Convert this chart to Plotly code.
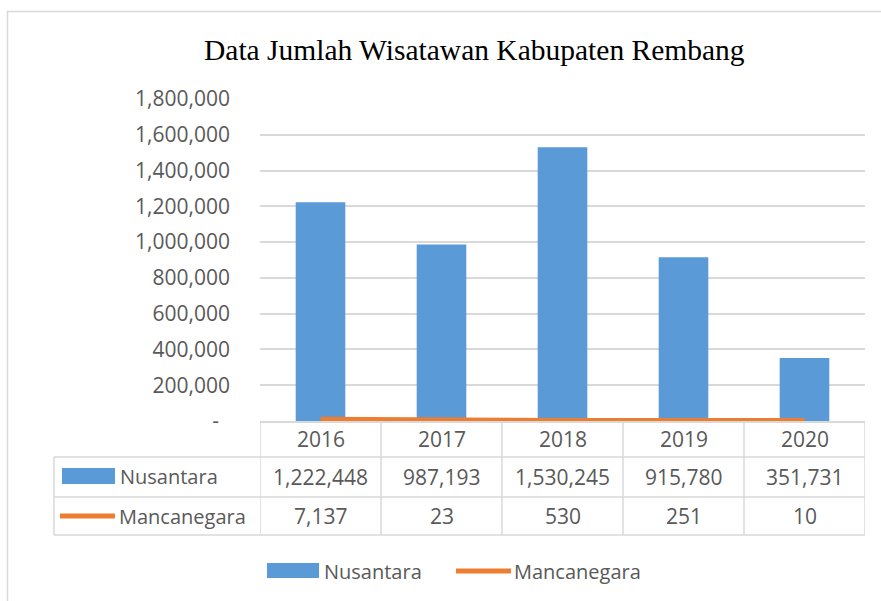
import plotly.graph_objects as go

# ---- data ----
years = ["2016", "2017", "2018", "2019", "2020"]
nusantara = [1222448, 987193, 1530245, 915780, 351731]
mancanegara = [7137, 23, 530, 251, 10]
series_names = ["Nusantara", "Mancanegara"]
y_ticks = [0, 200000, 400000, 600000, 800000, 1000000, 1200000, 1400000, 1600000, 1800000]
y_ticktext = ["-\u00a0\u00a0"] + [f"{v:,}" for v in y_ticks[1:]]
title_text = "Data Jumlah Wisatawan Kabupaten Rembang"

# ---- styling ----
W, H = 881, 601
L, R, T, B = 260, 865, 99, 421
BAR = "#5A9AD6"
ORANGE = "#ED7D31"
GRID = "#D9D9D9"
TXT = "#595959"
FONT = "Open Sans"
NUM = 21
LAB = 20


def px(x):
    return (x - L) / (R - L)


def py(y):
    return (B - y) / (B - T)


fig = go.Figure()
fig.add_trace(go.Bar(x=years, y=nusantara, name=series_names[0], width=0.41,
                     marker=dict(color=BAR, line=dict(width=0)), showlegend=False))
fig.add_trace(go.Scatter(x=years, y=mancanegara, name=series_names[1], mode="lines",
                         line=dict(color=ORANGE, width=6), showlegend=False))

shapes = []
ann = []

# outer chart border
shapes.append(dict(type="rect", xref="paper", yref="paper", x0=px(7.5), x1=px(900),
                   y0=py(11.5), y1=py(650), line=dict(color=GRID, width=1.5),
                   fillcolor="rgba(0,0,0,0)", layer="below"))

# data table grid
for yy in [457, 497, 535]:
    shapes.append(dict(type="line", xref="paper", yref="paper", x0=px(54), x1=1,
                       y0=py(yy), y1=py(yy), line=dict(color=GRID, width=1.5)))
for i in range(len(years) + 1):
    shapes.append(dict(type="line", xref="x", yref="paper", x0=i - 0.5, x1=i - 0.5,
                       y0=py(421), y1=py(535), line=dict(color=GRID, width=1.5)))
shapes.append(dict(type="line", xref="paper", yref="paper", x0=px(54), x1=px(54),
                   y0=py(457), y1=py(535), line=dict(color=GRID, width=1.5)))

# table text
for i, yr in enumerate(years):
    ann.append(dict(x=i, xref="x", y=py(439), yref="paper", text=yr, showarrow=False,
                    font=dict(family=FONT, size=NUM, color=TXT), xanchor="center", yanchor="middle"))
    ann.append(dict(x=i, xref="x", y=py(477), yref="paper", text=f"{nusantara[i]:,}", showarrow=False,
                    font=dict(family=FONT, size=NUM, color=TXT), xanchor="center", yanchor="middle"))
    ann.append(dict(x=i, xref="x", y=py(516), yref="paper", text=f"{mancanegara[i]:,}", showarrow=False,
                    font=dict(family=FONT, size=NUM, color=TXT), xanchor="center", yanchor="middle"))

# row label keys
shapes.append(dict(type="rect", xref="paper", yref="paper", x0=px(62), x1=px(115),
                   y0=py(484), y1=py(468), fillcolor=BAR, line=dict(width=0)))
shapes.append(dict(type="line", xref="paper", yref="paper", x0=px(60), x1=px(115),
                   y0=py(516), y1=py(516), line=dict(color=ORANGE, width=5)))
ann.append(dict(x=px(118), xref="paper", y=py(476), yref="paper", text=series_names[0], showarrow=False,
                font=dict(family=FONT, size=LAB, color=TXT), xanchor="left", yanchor="middle"))
ann.append(dict(x=px(117), xref="paper", y=py(516), yref="paper", text=series_names[1], showarrow=False,
                font=dict(family=FONT, size=LAB, color=TXT), xanchor="left", yanchor="middle"))

# bottom legend
shapes.append(dict(type="rect", xref="paper", yref="paper", x0=px(267), x1=px(319),
                   y0=py(578), y1=py(563), fillcolor=BAR, line=dict(width=0)))
shapes.append(dict(type="line", xref="paper", yref="paper", x0=px(456), x1=px(511),
                   y0=py(571), y1=py(571), line=dict(color=ORANGE, width=5)))
ann.append(dict(x=px(322), xref="paper", y=py(571), yref="paper", text=series_names[0], showarrow=False,
                font=dict(family=FONT, size=LAB, color=TXT), xanchor="left", yanchor="middle"))
ann.append(dict(x=px(512), xref="paper", y=py(571), yref="paper", text=series_names[1], showarrow=False,
                font=dict(family=FONT, size=LAB, color=TXT), xanchor="left", yanchor="middle"))

# title
ann.append(dict(x=px(474), xref="paper", y=py(50), yref="paper", text=title_text, showarrow=False,
                font=dict(family="Liberation Serif", size=29.5, color="#000000"),
                xanchor="center", yanchor="middle"))

fig.update_layout(
    width=W, height=H,
    margin=dict(l=L, r=W - R, t=T, b=H - B, pad=0),
    paper_bgcolor="white", plot_bgcolor="white",
    shapes=shapes, annotations=ann, showlegend=False,
    xaxis=dict(type="category", range=[-0.5, len(years) - 0.5], showgrid=False,
               showline=True, linecolor=GRID, linewidth=1.5, showticklabels=False,
               ticks="", zeroline=False),
    yaxis=dict(range=[0, 1800000], tickvals=y_ticks, ticktext=y_ticktext,
               showgrid=True, gridcolor=GRID, gridwidth=1.5, zeroline=False,
               showline=False, ticks="", ticklabelstandoff=29,
               tickfont=dict(family=FONT, size=NUM, color=TXT)),
)

fig.write_html("out.html", config={"displayModeBar": False},
               post_script="document.body.style.margin='0';document.body.style.overflow='hidden';")
